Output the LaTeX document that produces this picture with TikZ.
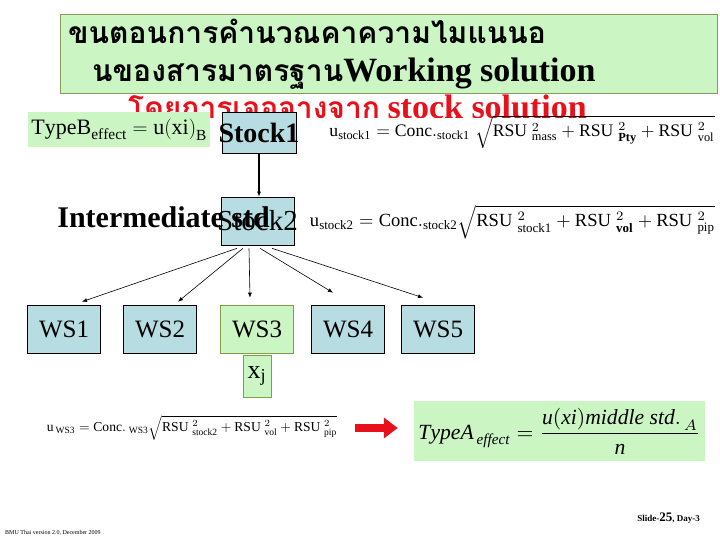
\documentclass[tikz,border=0pt]{standalone}
\usepackage{amsmath}
\usepackage{graphicx}
\usepackage{fontspec}
\setmainfont{Liberation Serif}
\newfontfamily\thaifont[Script=Thai]{Loma}
\usetikzlibrary{arrows.meta,positioning}
\definecolor{boxblue}{HTML}{B7DDE2}
\definecolor{boxgreen}{HTML}{CCF5C4}
\definecolor{greenline}{HTML}{7F9F45}
\definecolor{titleline}{HTML}{8A9A5B}
\definecolor{slidered}{HTML}{E8101A}
\newcommand{\latbig}{\fontsize{34}{36}\selectfont}
\tikzset{
  bbox/.style={draw=black, line width=.6pt, fill=boxblue, minimum width=73pt, minimum height=48pt, inner sep=0pt},
  gbox/.style={bbox, draw=greenline, fill=boxgreen},
  wslbl/.style={font=\fontsize{25}{28}\selectfont},
  bigtxt/.style={font=\fontsize{30}{34}\selectfont\bfseries, inner sep=0pt},
  eqn/.style={inner sep=0pt},
  ar/.style={-{Latex[length=5pt,width=4pt]}, line width=.6pt},
  bigar/.style={-{Triangle[length=14pt,width=20pt]}, line width=8pt, draw=slidered},
}
\begin{document}
\begin{tikzpicture}[x=1pt, y=-1pt]
  \useasboundingbox (0,0) rectangle (720,540);
  % title
  \node[fill=boxgreen, draw=titleline, minimum width=657pt, minimum height=79pt, inner sep=0pt, anchor=north west] (title) at (60,14) {};
  \node[bigtxt, anchor=base west] (tline1) at (68,44) {\thaifont ขนตอนการคำนวณคาความไมแนนอ};
  \node[bigtxt, anchor=base west] (tline2) at (92,82) {{\thaifont นของสารมาตรฐาน}{\latbig Working solution}};
  \begin{scope}
    \clip (0,0) rectangle (720,118);
    \node[bigtxt, anchor=base west, text=slidered] (subt) at (128,119) {{\thaifont โดยการเจอจางจาก} {\latbig stock solution}};
  \end{scope}
  % stock 1
  \node[fill=boxgreen, minimum width=182pt, minimum height=35pt, inner sep=0pt, anchor=north west, font=\fontsize{22}{24}\selectfont] (typeb) at (28,112) {$\mathrm{TypeB}_{\mathrm{effect}} = \mathrm{u(xi)}_{\mathrm{B}}$};
  \node[bbox, minimum width=74pt, minimum height=41pt, font=\fontsize{28}{30}\selectfont\bfseries] (stock1) at (259,132.5) {\makebox[0pt]{Stock1}};
  \node[eqn] (ustock1) at (522,132) {\resizebox{385pt}{!}{$\mathrm{u}_{\mathrm{stock1}} = \mathrm{Conc.}_{\mathrm{stock1}}\;\sqrt{\mathrm{RSU}\;{}^{2}_{\mathrm{mass}} + \mathrm{RSU}\;{}^{2}_{\mathbf{Pty}} + \mathrm{RSU}\;{}^{2}_{\mathrm{vol}}}$}};
  % stock 2
  \node[bbox, font=\fontsize{29}{31}\selectfont] (stock2) at (257.5,221) {\makebox[0pt]{Stock2}};
  \node[bigtxt, anchor=base east] (interm) at (270,228) {Intermediate std};
  \node[eqn] (ustock2) at (512.5,222) {\resizebox{405pt}{!}{$\mathrm{u}_{\mathrm{stock2}} = \mathrm{Conc.}_{\mathrm{stock2}}\sqrt{\mathrm{RSU}\;{}^{2}_{\mathrm{stock1}} + \mathrm{RSU}\;{}^{2}_{\mathbf{vol}} + \mathrm{RSU}\;{}^{2}_{\mathrm{pip}}}$}};
  \draw[ar, line width=1.2pt] (stock1.south) -- (stock1.south |- stock2.north);
  % working solutions
  \foreach \i/\x in {1/64,2/160,4/348,5/438}{ \node[bbox, wslbl] (ws\i) at (\x,329) {WS\i}; }
  \node[gbox, wslbl] (ws3) at (257,329) {WS3};
  \node[gbox, minimum width=28pt, minimum height=42pt, font=\fontsize{26}{28}\selectfont] (xj) at (257,376) {$\mathrm{x}_{\mathrm{j}}$};
  \draw[ar] ([xshift=-20.5pt,yshift=-3pt]stock2.south) -- ([xshift=18pt,yshift=3pt]ws1.north);
  \draw[ar] ([xshift=-14.5pt,yshift=-3pt]stock2.south) -- ([xshift=18pt,yshift=3pt]ws2.north);
  \draw[ar] ([xshift=-8.5pt,yshift=-3pt]stock2.south) -- ([xshift=-7pt,yshift=7pt]ws3.north);
  \draw[ar] ([xshift=2.5pt,yshift=-3pt]stock2.south) -- ([xshift=-15pt,yshift=12pt]ws4.north);
  \draw[ar] ([xshift=14.5pt,yshift=-3pt]stock2.south) -- ([xshift=-15pt,yshift=7pt]ws5.north);
  % type A
  \node[eqn] (uws3) at (192,428) {\resizebox{290pt}{!}{$\mathrm{u}_{\,\mathrm{WS3}} = \mathrm{Conc.}_{\;\mathrm{WS3}}\sqrt{\mathrm{RSU}\;{}^{2}_{\mathrm{stock2}} + \mathrm{RSU}\;{}^{2}_{\mathrm{vol}} + \mathrm{RSU}\;{}^{2}_{\mathrm{pip}}}$}};
  \node[fill=boxgreen, minimum width=291pt, minimum height=60pt, inner sep=0pt] (typea) at (559.5,431) {\resizebox{282pt}{!}{$\mathit{TypeA}_{\,\mathit{effect}} = \dfrac{\mathit{u(xi)middle\ std.}_{\,A}}{\mathit{n}}$}};
  \draw[bigar, shorten <=18pt, shorten >=16pt] (uws3.east) -- (uws3.east -| typea.west);
  % footer
  \node[anchor=base east, inner sep=0pt, font=\bfseries\fontsize{9}{10}\selectfont] (slide) at (700,521) {Slide-{\fontsize{13}{13}\selectfont 25}, Day-3};
  \node[anchor=base west, inner sep=0pt, font=\fontsize{6}{7}\selectfont] (ver) at (5,534) {BMU Thai version 2.0, December 2009};
\end{tikzpicture}
\end{document}
